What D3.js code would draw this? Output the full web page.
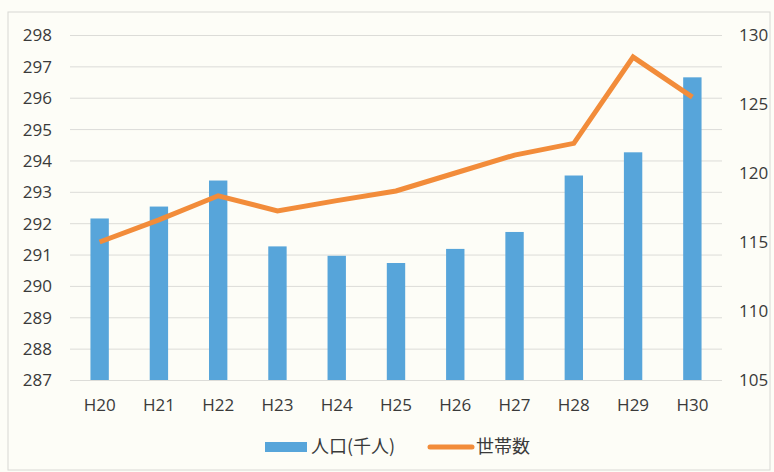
<!DOCTYPE html>
<html><head><meta charset="utf-8">
<script src="https://cdn.jsdelivr.net/npm/d3@7"></script>
<style>
html,body{margin:0;padding:0;background:#fdfdf7;}
svg{display:block;}
text{font-family:"Open Sans","Noto Sans",sans-serif;fill:#3a3a3a;}
</style></head>
<body>
<svg id="chart" width="774" height="472"></svg>
<script>
const categories = ["H20","H21","H22","H23","H24","H25","H26","H27","H28","H29","H30"];
const population = [292.15,292.53,293.36,291.26,290.96,290.73,291.18,291.72,293.52,294.26,296.65];
const households = [115.0,116.6,118.35,117.25,118.0,118.7,120.0,121.3,122.15,128.4,125.5];
const leftTicks = [287,288,289,290,291,292,293,294,295,296,297,298];
const rightTicks = [105,110,115,120,125,130];
const seriesNames = ["人口(千人)","世帯数"];

const svg = d3.select("#chart");
const W = 774, H = 472;
const m = {left:70, right:52, top:35, bottom:92};

svg.append("rect").attr("x",8).attr("y",12).attr("width",W-12).attr("height",H-14)
  .attr("fill","#fdfdf7").attr("stroke","#d8d8d4").attr("stroke-width",1);

const x = d3.scaleBand().domain(categories).range([m.left, W-m.right]).paddingInner(0.69).paddingOuter(0.345);
const yL = d3.scaleLinear().domain([287,298]).range([H-m.bottom, m.top]);
const yR = d3.scaleLinear().domain([105,130]).range([H-m.bottom, m.top]);

// gridlines
svg.append("g").selectAll("line").data(leftTicks).join("line")
  .attr("x1",m.left).attr("x2",W-m.right)
  .attr("y1",d=>yL(d)+0.5).attr("y2",d=>yL(d)+0.5)
  .attr("stroke","#dcdcd8").attr("stroke-width",1);

// left axis
const axL = svg.append("g").attr("transform",`translate(${m.left-18},0)`)
  .call(d3.axisLeft(yL).tickValues(leftTicks).tickSize(0).tickPadding(0));
axL.select(".domain").remove();
axL.selectAll("text").style("font-size","17px").attr("fill","#3a3a3a").attr("dy","0.35em");

// right axis
const axR = svg.append("g").attr("transform",`translate(${W-m.right+17},0)`)
  .call(d3.axisRight(yR).tickValues(rightTicks).tickSize(0).tickPadding(0));
axR.select(".domain").remove();
axR.selectAll("text").style("font-size","17px").attr("fill","#3a3a3a").attr("dy","0.35em");

// x axis
const axX = svg.append("g").attr("transform",`translate(0,${H-m.bottom+16})`)
  .call(d3.axisBottom(x).tickSize(0).tickPadding(0));
axX.select(".domain").remove();
axX.selectAll("text").style("font-size","17px").attr("fill","#3a3a3a").attr("dy","0.9em");

// bars
svg.append("g").selectAll("rect").data(categories).join("rect")
  .attr("x",d=>x(d)).attr("width",x.bandwidth())
  .attr("y",(d,i)=>yL(population[i]))
  .attr("height",(d,i)=>yL(287)-yL(population[i]))
  .attr("fill","#57a5da");

// line
const line = d3.line().x((d,i)=>x(categories[i])+x.bandwidth()/2).y(d=>yR(d));
svg.append("path").datum(households).attr("d",line)
  .attr("fill","none").attr("stroke","#f28c3a").attr("stroke-width",5)
  .attr("stroke-linejoin","miter").attr("stroke-linecap","butt");

// legend
const lg = svg.append("g");
lg.append("rect").attr("x",265).attr("y",442).attr("width",42).attr("height",10).attr("fill","#57a5da");
lg.append("text").attr("x",311).attr("y",447).attr("dy","0.35em").style("font-size","18px")
  .style("font-family","'Noto Sans CJK JP',sans-serif").text(seriesNames[0]);
lg.append("line").attr("x1",430).attr("x2",472).attr("y1",447).attr("y2",447)
  .attr("stroke","#f28c3a").attr("stroke-width",5).attr("stroke-linecap","round");
lg.append("text").attr("x",476).attr("y",447).attr("dy","0.35em").style("font-size","18px")
  .style("font-family","'Noto Sans CJK JP',sans-serif").text(seriesNames[1]);
</script>
</body></html>
